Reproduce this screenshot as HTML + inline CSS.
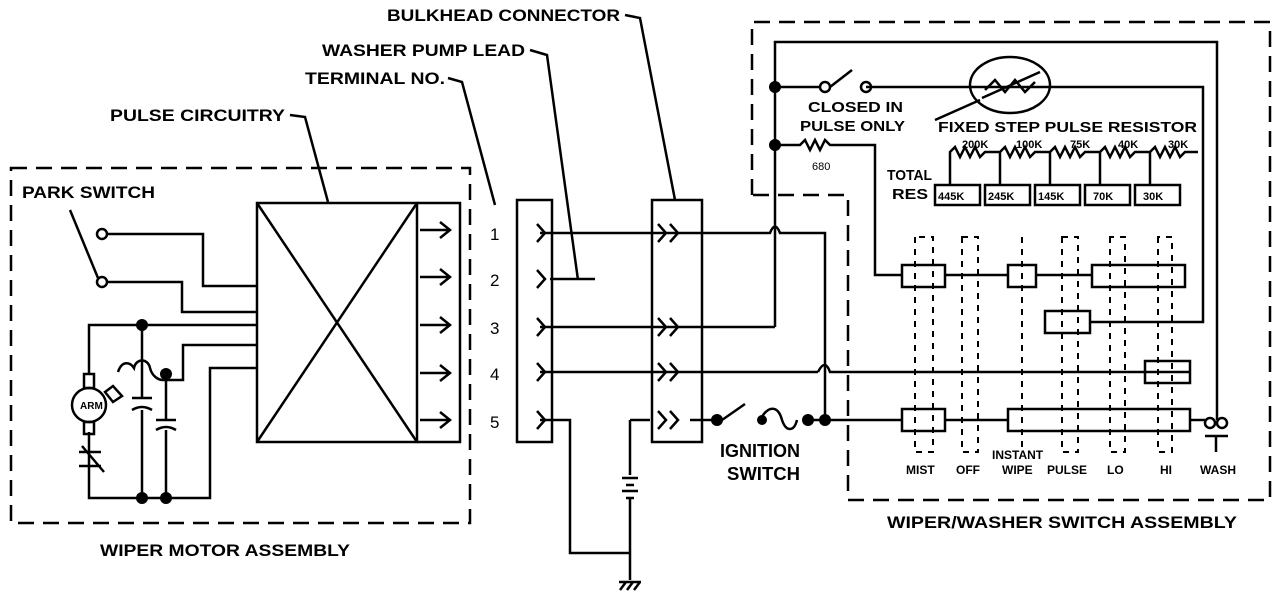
<!DOCTYPE html>
<html><head><style>
body{margin:0;background:#fff}
svg{display:block}
text{font-family:"Liberation Sans",Arial,sans-serif;fill:#000}
</style></head><body>
<svg width="1280" height="600" viewBox="0 0 1280 600" xmlns="http://www.w3.org/2000/svg">
<g fill="none" stroke="#000" stroke-width="2.5">
<rect x="11" y="168" width="459" height="355" stroke-dasharray="16,9"/>
<path d="M752 195 V22 H1270 V500 H848 V195 H752" stroke-dasharray="16,9"/>
<rect x="257" y="203" width="160" height="239"/>
<path d="M257 203 L417 442 M417 203 L257 442"/>
<path d="M417 203 H460 V442 H417"/>
<path d="M420 230 H450 M440 222 L450 230 L440 238 M420 277 H450 M440 269 L450 277 L440 285 M420 325 H450 M440 317 L450 325 L440 333 M420 373 H450 M440 365 L450 373 L440 381 M420 420 H450 M440 412 L450 420 L440 428"/>
<circle cx="102" cy="234" r="5"/><circle cx="102" cy="282" r="5"/>
<path d="M107 234 H203 V286 H257 M107 282 H182 V312 H257"/>
<path d="M70 210 L98 278"/>
<path d="M89 374 V325 H257 M142 325 V398 M142 410 V498 M163 380 H183 V345 H257 M166 380 V420 M166 430 V498 M89 432 V498 H210 V368 H257"/>
<path d="M118 372 C122 360 130 362 134 368 C136 358 148 358 150 368 C152 376 158 380 163 380"/>
<path d="M132 398 H152 M132 410 Q142 404 152 410 M156 420 H176 M156 430 Q166 424 176 430"/>
<rect x="84" y="374" width="10" height="14"/><circle cx="89" cy="405" r="17"/><rect x="84" y="422" width="10" height="12"/>
<path d="M105 392 L113 386 L122 396 L113 402 Z"/>
<path d="M79 452 H101 M79 466 H101 M82 446 L104 472"/>
<rect x="517" y="200" width="35" height="242"/>
<rect x="652" y="200" width="50" height="242"/>
<path d="M540 233 H690 M540 327 H775 M540 372 H818 M540 420 H570 V553 H630 M595 279 H550"/>
<path d="M537 224 L545 233 L537 242 M537 270 L545 279 L537 288 M537 318 L545 327 L537 336 M537 363 L545 372 L537 381 M537 411 L545 420 L537 429"/>
<path d="M658 224 L666 233 L658 242 M670 224 L678 233 L670 242 M658 318 L666 327 L658 336 M670 318 L678 327 L670 336 M658 363 L666 372 L658 381 M670 363 L678 372 L670 381 M658 411 L666 420 L658 429 M670 411 L678 420 L670 429"/>
<path d="M690 233 H770 Q775 220 780 233 H825 V420 M775 327 V42 H1217 V420"/>
<path d="M818 372 Q825 358 830 372 H1190"/>
<path d="M630 420 H650 M630 420 V475 M630 498 V553 M630 553 V580 M622 478 H638 M626 485 H634 M622 491 H638 M626 498 H634 M620 590 L626 582 M627 590 L633 582 M634 590 L640 582 M619 582 H641"/>
<path d="M690 420 H717 M722 420 L745 404 M760 420 C768 405 778 405 782 420 C786 432 794 432 797 420 M808 420 H902 M945 420 H1008"/>
<path d="M625 15 L640 18 L675 200 M530 50 L547 55 L578 280 M448 78 L462 82 L495 205 M290 115 L305 117 L328 202"/>
<path d="M775 87 H820 M830 87 L852 70 M866 87 H1203 V322 H1090"/>
<circle cx="825" cy="87" r="5"/><circle cx="866" cy="87" r="5"/>
<ellipse cx="1010" cy="85" rx="40" ry="28"/>
<path d="M985 90 L995 80 L1005 92 L1015 80 L1025 92 L1035 82 M982 98 L1040 72"/>
<path d="M980 100 L935 120"/>
<path d="M775 145 H800 L805 140 L810 150 L815 140 L820 150 L825 140 L830 145 H875 V275 H902 M945 275 H1008 M1036 275 H1092"/>
<path d="M950 185 V152 L955 147 L960 157 L965 147 L970 157 L975 147 L980 157 L985 152 H1000 L1005 147 L1010 157 L1015 147 L1020 157 L1025 147 L1030 157 L1035 152 H1050 L1055 147 L1060 157 L1065 147 L1070 157 L1075 147 L1080 157 L1085 152 H1100 L1105 147 L1110 157 L1115 147 L1120 157 L1125 147 L1130 157 L1135 152 H1150 L1155 147 L1160 157 L1165 147 L1170 157 L1175 147 L1180 157 L1185 152 H1198"/>
<path d="M1000 152 V185 M1050 152 V185 M1100 152 V185 M1150 152 V185"/>
<rect x="935" y="185" width="45" height="20"/><rect x="985" y="185" width="45" height="20"/><rect x="1035" y="185" width="45" height="20"/><rect x="1085" y="185" width="45" height="20"/><rect x="1135" y="185" width="45" height="20"/>
<rect x="902" y="265" width="43" height="22"/><rect x="1008" y="265" width="28" height="22"/><rect x="1092" y="265" width="93" height="22"/>
<rect x="1045" y="311" width="45" height="22"/><rect x="1145" y="361" width="45" height="22"/>
<rect x="902" y="409" width="43" height="22"/><rect x="1008" y="409" width="182" height="22"/>
<path d="M1190 420 H1205"/><circle cx="1210" cy="423" r="5"/><circle cx="1222" cy="423" r="5"/>
<path d="M1205 436 H1228 M1216 436 V452"/>
</g>
<g fill="none" stroke="#000" stroke-width="2" stroke-dasharray="6,6">
<path d="M915 237 V452 H933 V237 Z M962 237 V452 H978 V237 Z M1022 237 V452 M1062 237 V452 H1078 V237 Z M1110 237 V452 H1125 V237 Z M1158 237 V452 H1172 V237 Z"/>
</g>
<g fill="#000">
<circle cx="142" cy="325" r="6"/><circle cx="166" cy="374" r="6"/><circle cx="142" cy="498" r="6"/><circle cx="166" cy="498" r="6"/>
<circle cx="775" cy="87" r="6"/><circle cx="775" cy="145" r="6"/>
<circle cx="717" cy="420" r="6"/><circle cx="762" cy="420" r="5"/><circle cx="808" cy="420" r="6"/><circle cx="825" cy="420" r="6"/>
</g>
<g font-size="17" font-weight="bold" lengthAdjust="spacingAndGlyphs">
<text x="387" y="21" textLength="233" lengthAdjust="spacingAndGlyphs">BULKHEAD CONNECTOR</text>
<text x="322" y="56" textLength="203" lengthAdjust="spacingAndGlyphs">WASHER PUMP LEAD</text>
<text x="305" y="84" textLength="140" lengthAdjust="spacingAndGlyphs">TERMINAL NO.</text>
<text x="110" y="121" textLength="175" lengthAdjust="spacingAndGlyphs">PULSE CIRCUITRY</text>
<text x="22" y="198" textLength="133" lengthAdjust="spacingAndGlyphs">PARK SWITCH</text>
<text x="100" y="556" textLength="250" lengthAdjust="spacingAndGlyphs">WIPER MOTOR ASSEMBLY</text>
<text x="887" y="528" textLength="350" lengthAdjust="spacingAndGlyphs">WIPER/WASHER SWITCH ASSEMBLY</text>
<text x="720" y="457" font-size="18" textLength="80" lengthAdjust="spacingAndGlyphs">IGNITION</text>
<text x="727" y="480" font-size="18" textLength="73" lengthAdjust="spacingAndGlyphs">SWITCH</text>
<text x="808" y="112" font-size="15" textLength="95" lengthAdjust="spacingAndGlyphs">CLOSED IN</text>
<text x="800" y="131" font-size="15" textLength="105" lengthAdjust="spacingAndGlyphs">PULSE ONLY</text>
<text x="938" y="132" font-size="15" textLength="259" lengthAdjust="spacingAndGlyphs">FIXED STEP PULSE RESISTOR</text>
<text x="887" y="180" font-size="15" textLength="45" lengthAdjust="spacingAndGlyphs">TOTAL</text>
<text x="892" y="199" font-size="15" textLength="36" lengthAdjust="spacingAndGlyphs">RES</text>
<text x="490" y="240" font-weight="normal">1</text><text x="490" y="286" font-weight="normal">2</text><text x="490" y="334" font-weight="normal">3</text><text x="490" y="380" font-weight="normal">4</text><text x="490" y="428" font-weight="normal">5</text>
</g>
<g font-size="11" font-weight="bold">
<text x="962" y="148">200K</text><text x="1016" y="148">100K</text><text x="1070" y="148">75K</text><text x="1118" y="148">40K</text><text x="1168" y="148">30K</text>
<text x="938" y="200">445K</text><text x="988" y="200">245K</text><text x="1038" y="200">145K</text><text x="1093" y="200">70K</text><text x="1143" y="200">30K</text>
<text x="812" y="170" font-weight="normal">680</text>
<text x="80" y="409" font-size="10">ARM</text>
</g>
<g font-size="12" font-weight="bold">
<text x="906" y="474">MIST</text><text x="956" y="474">OFF</text><text x="992" y="459">INSTANT</text><text x="1002" y="474">WIPE</text><text x="1047" y="474">PULSE</text><text x="1107" y="474">LO</text><text x="1160" y="474">HI</text><text x="1200" y="474">WASH</text>
</g>
</svg>
</body></html>
